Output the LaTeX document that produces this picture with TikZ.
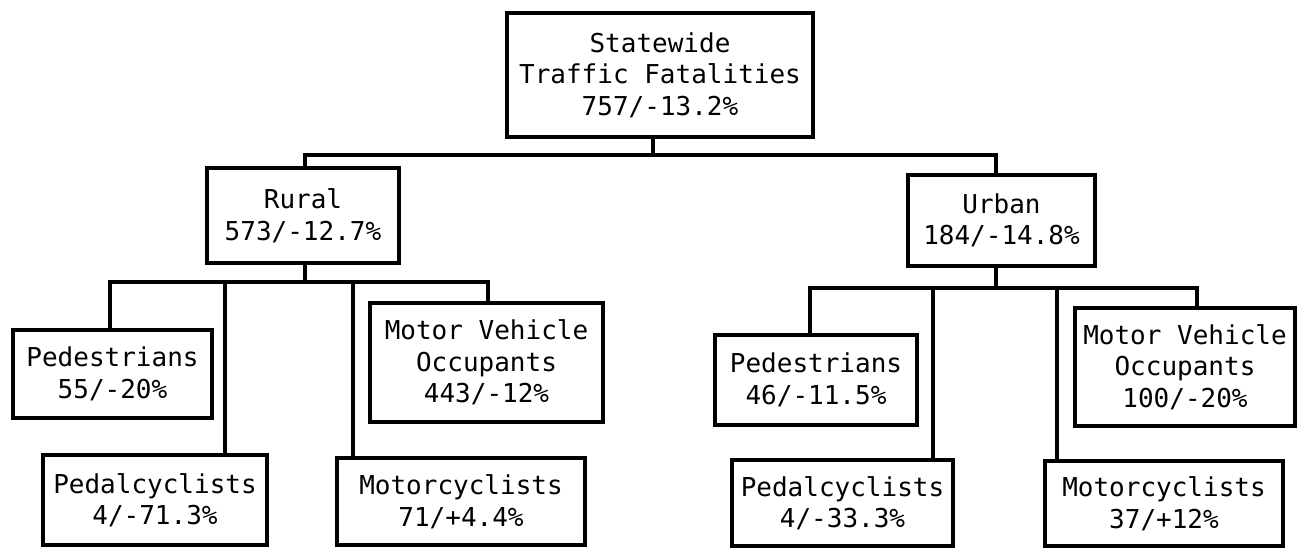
\documentclass[tikz,border=0pt]{standalone}
\usepackage{fontspec}
\newfontfamily\boxfont{DejaVu Sans Mono}
\begin{document}
\begin{tikzpicture}[x=0.5pt,y=-0.5pt,
  box/.style={draw,line width=1.7pt,inner sep=0pt,align=center,
    font=\boxfont\fontsize{13pt}{15.75pt}\selectfont},
  wire/.style={line width=1.7pt,line join=miter}]
\useasboundingbox (0,0) rectangle (1299,548);
% nodes
\node[box,minimum width=153pt,minimum height=62pt] (top) at (660,75)
  {Statewide\\Traffic Fatalities\\757/-13.2\%};
\node[box,minimum width=96pt,minimum height=47.5pt] (rural) at (303,215.5)
  {Rural\\573/-12.7\%};
\node[box,minimum width=93.5pt,minimum height=45.5pt] (urban) at (1001.5,220.5)
  {Urban\\184/-14.8\%};
\node[box,minimum width=99.5pt,minimum height=44pt] (rped) at (112.5,374)
  {Pedestrians\\55/-20\%};
\node[box,minimum width=112pt,minimum height=45pt] (rpedal) at (155,500)
  {Pedalcyclists\\4/-71.3\%};
\node[box,minimum width=116.5pt,minimum height=59.5pt] (rmvo) at (486.5,362.5)
  {Motor Vehicle\\Occupants\\443/-12\%};
\node[box,minimum width=124pt,minimum height=43.5pt] (rmoto) at (461,501.5)
  {Motorcyclists\\71/+4.4\%};
\node[box,minimum width=101pt,minimum height=45pt] (uped) at (816,380)
  {Pedestrians\\46/-11.5\%};
\node[box,minimum width=110.5pt,minimum height=43pt] (upedal) at (842.5,503)
  {Pedalcyclists\\4/-33.3\%};
\node[box,minimum width=110pt,minimum height=59pt] (umvo) at (1185,367)
  {Motor Vehicle\\Occupants\\100/-20\%};
\node[box,minimum width=119pt,minimum height=42.5pt] (umoto) at (1164,503.5)
  {Motorcyclists\\37/+12\%};
% junction coordinates
\coordinate (tj) at (653,155);
\coordinate (rj) at (305,155);
\coordinate (uj) at (996,155);
\coordinate (rb) at (305,282);
\coordinate (rbA) at (110,282);
\coordinate (rbB) at (225,282);
\coordinate (rbC) at (353,282);
\coordinate (rbD) at (488,282);
\coordinate (ub) at (996,288);
\coordinate (ubA) at (810,288);
\coordinate (ubB) at (933,288);
\coordinate (ubC) at (1057,288);
\coordinate (ubD) at (1197,288);
% connectors
\draw[wire] (top.south -| tj) -- (tj);
\draw[wire] (rj |- rural.north) -- (rj) -- (uj) -- (uj |- urban.north);
\draw[wire] (rural.south -| rb) -- (rb);
\draw[wire] (rbA |- rped.north) -- (rbA) -- (rbD) -- (rbD |- rmvo.north);
\draw[wire] (rbB) -- (rbB |- rpedal.north);
\draw[wire] (rbC) -- (rbC |- rmoto.north);
\draw[wire] (urban.south -| ub) -- (ub);
\draw[wire] (ubA |- uped.north) -- (ubA) -- (ubD) -- (ubD |- umvo.north);
\draw[wire] (ubB) -- (ubB |- upedal.north);
\draw[wire] (ubC) -- (ubC |- umoto.north);
\end{tikzpicture}
\end{document}
